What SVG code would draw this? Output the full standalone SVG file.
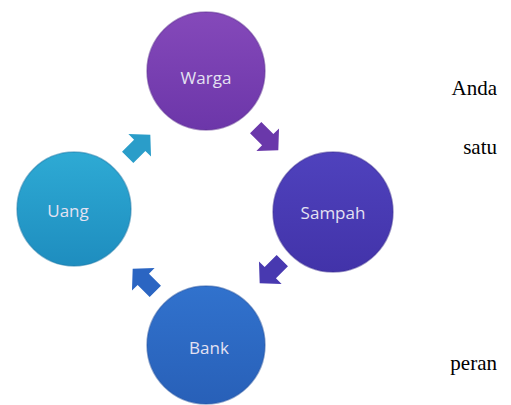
<svg xmlns="http://www.w3.org/2000/svg" width="511" height="405" viewBox="0 0 511 405">
<defs>
<linearGradient id="gW" x1="0" y1="0" x2="0" y2="1"><stop offset="0" stop-color="#8549ba"/><stop offset="1" stop-color="#6c36a9"/></linearGradient>
<linearGradient id="gU" x1="0" y1="0" x2="0" y2="1"><stop offset="0" stop-color="#2eaad4"/><stop offset="1" stop-color="#1e8dbf"/></linearGradient>
<linearGradient id="gS" x1="0" y1="0" x2="0" y2="1"><stop offset="0" stop-color="#4f42bd"/><stop offset="1" stop-color="#4233a9"/></linearGradient>
<linearGradient id="gB" x1="0" y1="0" x2="0" y2="1"><stop offset="0" stop-color="#3172cd"/><stop offset="1" stop-color="#2860b8"/></linearGradient>
<path id="arr" d="M-16,-8 L1,-8 L1,-16 L16,0 L1,16 L1,8 L-16,8 Z"/>
</defs>
<style>
.lbl{font-family:"Open Sans","DejaVu Sans",sans-serif;font-size:17px;fill:#e4e2f2;text-anchor:middle;dominant-baseline:central}
.side{font-family:"Liberation Serif","Times New Roman",serif;font-size:21px;fill:#000;text-anchor:end}
.node{stroke-width:1.5;stroke-opacity:0.5}
</style>
<rect width="511" height="405" fill="#fff"/>
<g id="connectors">
<use href="#arr" fill="#2a9dc9" transform="translate(139,146) rotate(-45)"/>
<use href="#arr" fill="#6a38aa" transform="translate(267,139) rotate(45)"/>
<use href="#arr" fill="#4839b0" transform="translate(271,272) rotate(135)"/>
<use href="#arr" fill="#2b65c2" transform="translate(144,280) rotate(-135)"/>
</g>
<g id="warga"><circle class="node" cx="206" cy="71" r="59" fill="url(#gW)" stroke="#5a2a90"/><text class="lbl" x="206" y="77">Warga</text></g>
<g id="uang"><circle class="node" cx="74" cy="209" r="57" fill="url(#gU)" stroke="#1878a8"/><text class="lbl" x="68" y="210">Uang</text></g>
<g id="sampah"><circle class="node" cx="333" cy="212" r="60" fill="url(#gS)" stroke="#352890"/><text class="lbl" x="333" y="212">Sampah</text></g>
<g id="bank"><circle class="node" cx="206" cy="345" r="59" fill="url(#gB)" stroke="#2050a0"/><text class="lbl" x="209" y="347">Bank</text></g>
<text class="side" x="497" y="95">Anda</text>
<text class="side" x="497" y="154">satu</text>
<text class="side" x="497" y="370">peran</text>
</svg>
